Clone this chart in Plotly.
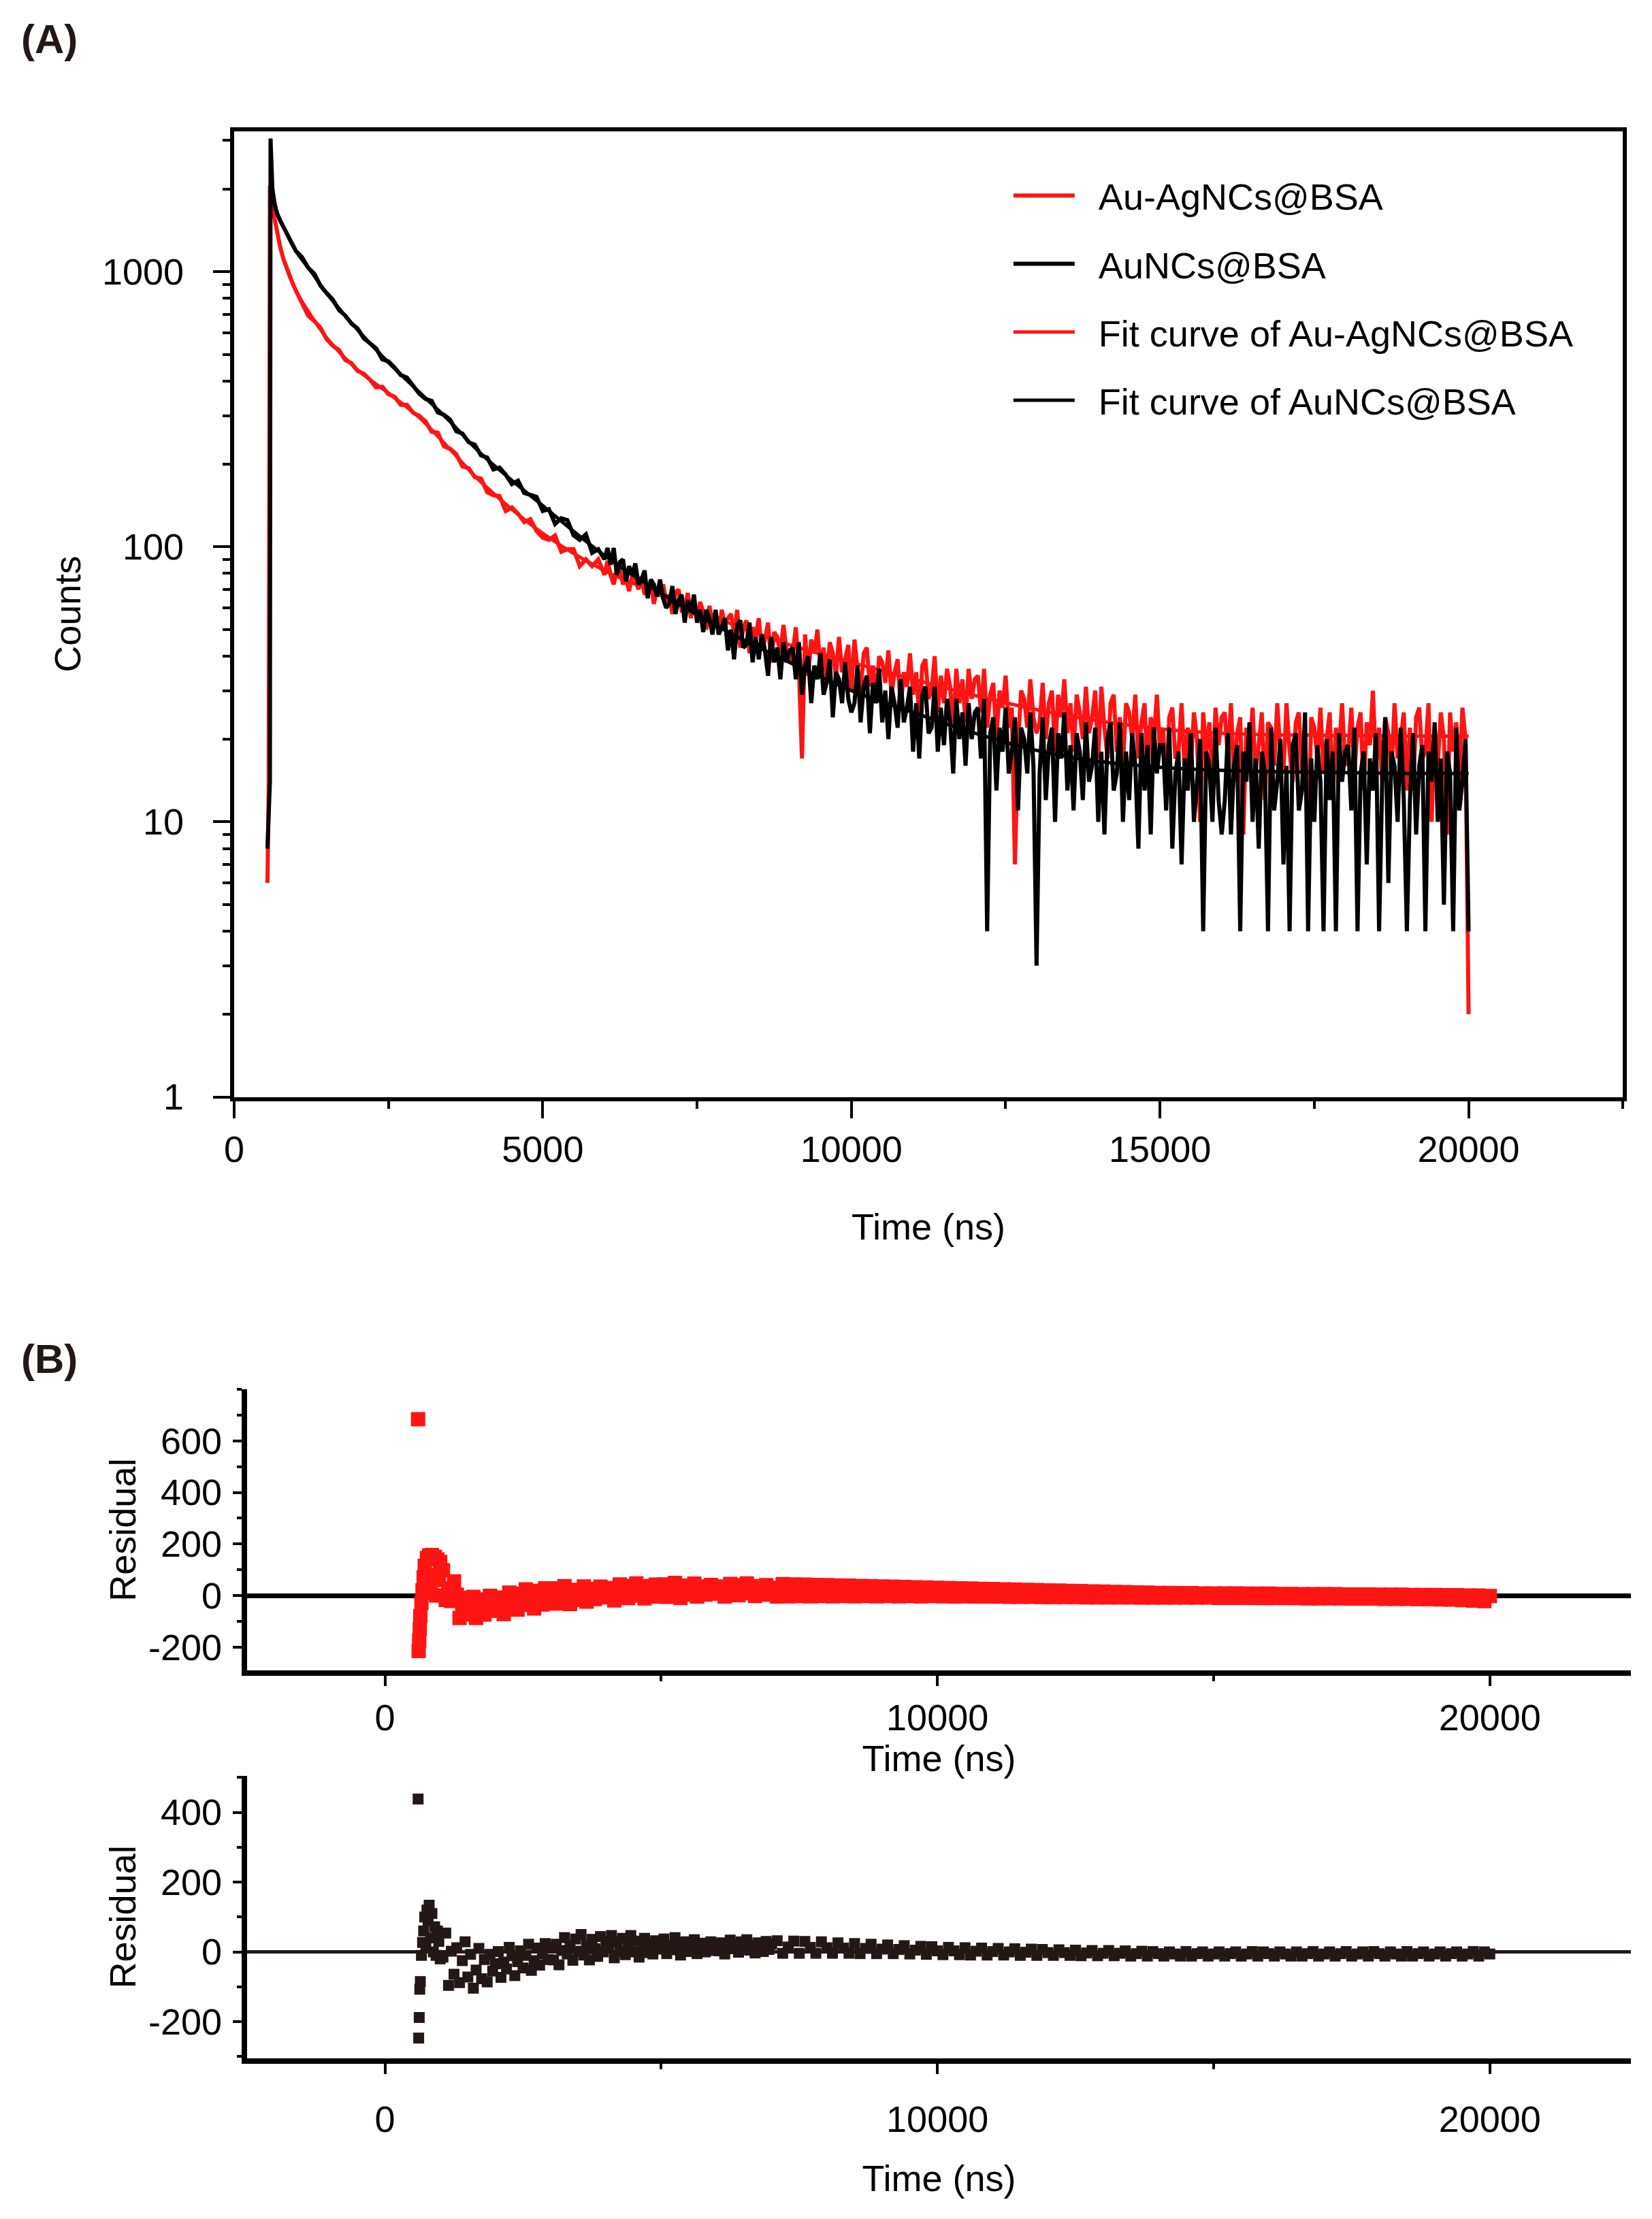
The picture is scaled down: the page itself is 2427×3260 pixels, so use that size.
import plotly.graph_objects as go

# ---- panel A: decay curves (counts vs time) ----
time_ns = [540, 560, 580, 590, 600, 610, 620, 640, 660, 680, 700, 750, 800, 850, 900, 950, 1000] \
    + list(range(1100, 6001, 100)) + list(range(6050, 20001, 50))

counts_auag = [
    6, 13, 2050, 1950, 1880, 1810, 1750, 1640, 1540, 1450, 1380, 1220, 1110, 1030, 960, 905, 855,
    773, 692, 662, 625, 568, 538, 519, 478, 465, 436,
    426, 405, 380, 382, 359, 351, 328, 328, 307, 299,
    286, 262, 260, 232, 227, 217, 196, 193, 179, 177,
    158, 154, 153, 135, 139, 132, 123, 126, 114, 108,
    106, 110, 96, 98, 98, 85, 90, 85, 90, 79,
    89, 79, 73, 82, 83, 73, 77, 69, 79, 76, 70, 78, 67, 71, 74, 62, 70, 66, 73, 63,
    67, 57, 68, 70, 59, 60, 68, 55, 62, 55, 63, 58, 50, 61, 53, 58, 48, 59, 52, 55,
    57, 48, 59, 43, 51, 54, 41, 51, 47, 55, 42, 46, 53, 38, 49, 47, 41, 52, 42, 38,
    41, 51, 36, 17, 48, 34, 46, 41, 50, 36, 43, 33, 45, 41, 34, 47, 35, 39, 44, 30,
    46, 36, 30, 41, 43, 31, 37, 28, 40, 38, 32, 42, 29, 35, 39, 26, 35, 31, 41, 29,
    35, 24, 37, 39, 28, 30, 40, 25, 34, 27, 36, 31, 22, 36, 27, 33, 23, 36, 28, 33,
    34, 25, 36, 22, 29, 32, 20, 30, 26, 34, 22, 26, 7, 19, 30, 28, 22, 33, 24, 21,
    23, 32, 20, 27, 30, 18, 29, 24, 33, 21, 27, 18, 29, 25, 20, 31, 21, 24, 30, 17,
    31, 22, 17, 27, 29, 18, 24, 16, 27, 25, 20, 29, 17, 23, 27, 15, 24, 20, 29, 18,
    22, 13, 24, 26, 17, 18, 27, 15, 22, 16, 25, 20, 10, 25, 18, 23, 14, 26, 19, 24,
    25, 17, 27, 14, 21, 24, 9, 22, 18, 26, 15, 19, 25, 12, 23, 22, 16, 27, 18, 15,
    27, 18, 14, 23, 25, 15, 21, 8, 24, 22, 17, 26, 15, 20, 25, 12, 22, 18, 27, 16,
    18, 26, 15, 22, 25, 13, 23, 19, 30, 16, 22, 14, 24, 21, 15, 27, 17, 20, 25, 13,
    22, 13, 24, 26, 17, 18, 27, 10, 22, 16, 25, 20, 9, 25, 18, 23, 14, 26, 20, 2,
]

counts_au = [
    8, 10, 14, 3050, 2300, 2120, 2000, 1810, 1730, 1670, 1620, 1530, 1450, 1380, 1310, 1240, 1190,
    1130, 1034, 983, 889, 836, 791, 725, 693, 648, 622,
    573, 549, 527, 480, 472, 448, 421, 412, 383, 360,
    345, 339, 308, 302, 290, 263, 258, 240, 235, 215,
    211, 191, 194, 183, 169, 174, 157, 154, 152, 135,
    137, 121, 127, 125, 110, 106, 111, 95, 98, 90,
    99, 86, 99, 79, 88, 90, 75, 85, 79, 87, 73, 76, 82, 65, 76, 73, 66, 76, 65, 60,
    62, 72, 57, 64, 67, 53, 64, 58, 67, 53, 59, 49, 59, 55, 48, 59, 48, 51, 55, 42,
    50, 39, 52, 54, 43, 44, 53, 38, 47, 39, 48, 42, 34, 47, 38, 43, 33, 45, 38, 42,
    43, 33, 45, 29, 37, 40, 27, 37, 33, 41, 29, 32, 39, 24, 35, 33, 27, 38, 28, 25,
    27, 37, 23, 31, 34, 21, 32, 27, 36, 23, 30, 20, 31, 27, 22, 33, 23, 26, 31, 18,
    27, 17, 29, 31, 21, 22, 31, 18, 26, 19, 28, 23, 15, 28, 20, 25, 16, 27, 20, 25,
    26, 17, 28, 4, 21, 24, 13, 22, 18, 26, 15, 18, 24, 11, 22, 20, 15, 25, 16, 3,
    15, 24, 12, 19, 22, 10, 21, 17, 25, 13, 19, 11, 21, 18, 12, 23, 14, 16, 22, 10,
    18, 9, 20, 23, 13, 15, 23, 10, 18, 12, 21, 16, 8, 21, 13, 19, 9, 22, 15, 19,
    19, 11, 22, 8, 15, 18, 7, 17, 13, 21, 10, 14, 20, 4, 18, 16, 10, 22, 12, 9,
    12, 21, 9, 16, 19, 4, 18, 14, 23, 10, 17, 8, 18, 15, 4, 22, 11, 14, 20, 7,
    16, 4, 19, 21, 11, 13, 25, 4, 17, 10, 19, 14, 4, 20, 12, 18, 4, 21, 14, 18,
    19, 11, 22, 4, 15, 18, 7, 17, 13, 21, 4, 14, 24, 6, 18, 16, 10, 22, 12, 4,
    12, 21, 9, 16, 19, 4, 18, 14, 23, 10, 17, 5, 18, 15, 4, 22, 11, 14, 20, 4,
]

fit_time_ns = [590, 600, 700, 800, 1000, 1250, 1500, 2000, 2500, 3000, 3500, 4000, 5000, 6000,
               7000, 8000, 9000, 10000, 11000, 12000, 13000, 14000, 15000, 16000, 17000, 18000, 19000, 20000]
fit_auag = [1950, 1880, 1380, 1110, 855, 690, 575, 440, 362, 295, 226, 172, 112, 82,
            66, 53, 44, 38, 33, 28.8, 25.6, 23.3, 21.8, 21.0, 20.7, 20.6, 20.5, 20.5]
fit_au = [2300, 2200, 1620, 1450, 1190, 1000, 835, 615, 468, 365, 285, 218, 141, 93,
          66, 49, 38, 30, 25, 21, 18.2, 16.6, 15.8, 15.4, 15.2, 15.1, 15.0, 15.0]

# ---- panel B: residuals ----
res_time_ns = [600, 610, 620, 630, 640, 660, 680, 700, 720, 740, 760, 780, 800, 825, 850, 875, 900, 925, 950, 975, 1000] \
    + list(range(1050, 7001, 50)) + list(range(7100, 20001, 100))

resid_auag = [
    684, -215, -175, -130, -80, -30, 20, 70, 115, 15, 145, 60, 155, 10, 157, 80, 150, 0, 140, 60, 130,
    98, -17, 27, -21, 55, 3, -87, -40, -9, -73, -36, -5, -87, -58, -15, -74, -37, -1, -59, -19,
    -59, -8, -72, -28, 11, -37, -11, -55, 7, -29, 24, -36, -3, -50, 18, -11, -35, 28, -19, 13,
    28, -31, 3, -14, 36, 15, -33, -1, 22, -18, 10, 35, -24, -3, 25, -14, 10, 34, -5, 22,
    -7, 29, -19, 14, 43, 5, 24, -10, 37, 9, 47, 0, 23, -11, 36, 14, -4, 42, 6, 31,
    43, -5, 22, 7, 49, 31, -9, 17, 38, 3, 26, 46, -4, 13, 35, 3, 22, 41, 9, 30,
    7, 35, -4, 22, 45, 14, 30, 1, 40, 16, 47, 9, 26, -2, 36, 18, 3, 40, 11, 30,
    -4, 44, -3, 43, -2, 42, -3, 41, -2, 40,
    -3, 39, -2, 38, -3, 37, -2, 36, -3, 35,
    -2, 34, -3, 33, -2, 32, -3, 31, -2, 30,
    -3, 29, -4, 28, -3, 27, -4, 26, -4, 25,
    -4, 24, -5, 23, -5, 22, -5, 21, -6, 20,
    -6, 19, -6, 18, -6, 17, -7, 16, -7, 15,
    -7, 14, -7, 13, -7, 12, -8, 11, -8, 10,
    -8, 10, -8, 9, -8, 9, -8, 8, -8, 8,
    -9, 8, -9, 8, -9, 7, -9, 7, -10, 7,
    -10, 6, -10, 6, -10, 5, -11, 5, -11, 5,
    -11, 5, -11, 4, -12, 4, -12, 4, -12, 3,
    -13, 3, -13, 3, -13, 2, -14, 2, -14, 2,
    -15, 1, -16, 1, -18, 0, -20, 0, -22, -2,
]

resid_au = [
    438, -247, -188, -107, -85, -10, 27, 60, 100, 20, 120, 90, 134, 40, 110, 0, 72, -10, 60, 30, -20,
    -15, 54, -96, 2, -64, 12, -88, -25, 29, -72, -7, -104, -52, 10, -77, -22, -86, -7, -55, -34,
    1, -73, -29, -49, 13, -11, -68, -28, 3, -46, -10, 22, -53, -25, 11, -38, -6, 24, -22, 12,
    -23, 22, -37, 4, 41, -6, 19, -24, 37, 2, 50, -9, 19, -23, 36, 9, -13, 44, 0, 30,
    15, 47, -17, 29, 2, 39, -8, 22, 47, 0, 31, -15, 10, 39, -2, 24, -6, 32, 8, 19,
    37, -5, 18, 6, 41, 25, -9, 13, 29, 1, 20, 35, -5, 8, 25, 0, 14, 29, 4, 23,
    3, 26, -6, 16, 34, 9, 22, -1, 29, 11, 35, 5, 19, -3, 26, 13, 1, 30, 7, 22,
    32, -4, 14, 31, -4, 30, 13, -4, 29, 12,
    -4, 26, 11, -4, 24, -5, 10, 22, -5, 8,
    20, -5, 7, 18, -6, 5, 16, -7, 15, 3,
    -8, 13, 3, -8, 12, -9, 2, 11, -9, 1,
    10, -9, 0, 9, -10, -1, 8, -10, 7, -2,
    -10, 6, -2, -10, 5, -11, -3, 4, -11, -4,
    4, -11, -4, 3, -12, -5, 2, -12, 1, -5,
    -12, 0, -6, -12, 1, -12, -5, 0, -12, -6,
    0, -12, -5, 0, -12, -6, 1, -12, 0, -5,
    -12, 0, -6, -12, 0, -12, -5, 1, -12, -6,
    0, -12, -5, 1, -12, -6, 0, -12, 1, -5,
    -12, 0, -6, -12, 1, -12, -5, 0, -12, -6,
    0, -12, -5, 0, -12, -6, 1, -12, 0, -6,
]

assert len(time_ns) == len(counts_auag) == len(counts_au)
assert len(fit_time_ns) == len(fit_auag) == len(fit_au)
assert len(res_time_ns) == len(resid_auag) == len(resid_au)

RED = "#ff1414"
BLACK = "#000000"
DARK = "#231815"
FONT = "Liberation Sans, Arial, sans-serif"
W, H = 2427, 3260
GAP = "\u00a0\u00a0"  # small gap between legend line and its label


def px_x(p):
    return p / W


def px_y(p):
    return 1 - p / H


fig = go.Figure()

fig.add_trace(go.Scatter(x=time_ns, y=counts_auag, mode="lines", name=GAP + "Au-AgNCs@BSA",
                         line=dict(color=RED, width=6), legendgroup="a", legendrank=1))
fig.add_trace(go.Scatter(x=fit_time_ns, y=fit_auag, mode="lines", name=GAP + "Fit curve of Au-AgNCs@BSA",
                         line=dict(color=RED, width=5, shape="spline"), legendgroup="c", legendrank=3))
fig.add_trace(go.Scatter(x=time_ns, y=counts_au, mode="lines", name=GAP + "AuNCs@BSA",
                         line=dict(color=BLACK, width=6), legendgroup="b", legendrank=2))
fig.add_trace(go.Scatter(x=fit_time_ns, y=fit_au, mode="lines", name=GAP + "Fit curve of AuNCs@BSA",
                         line=dict(color=BLACK, width=5, shape="spline"), legendgroup="d", legendrank=4))

fig.add_trace(go.Scatter(x=res_time_ns, y=resid_auag, mode="markers", xaxis="x2", yaxis="y2",
                         marker=dict(symbol="square", size=21, color=RED, line=dict(width=0)),
                         showlegend=False))
fig.add_trace(go.Scatter(x=res_time_ns, y=resid_au, mode="markers", xaxis="x3", yaxis="y3",
                         marker=dict(symbol="square", size=16, color=DARK, line=dict(width=0)),
                         showlegend=False))

tick_font = dict(family=FONT, size=54, color=BLACK)
log_minor = [2, 3, 4, 5, 6, 7, 8, 9, 20, 30, 40, 50, 60, 70, 80, 90,
             200, 300, 400, 500, 600, 700, 800, 900, 2000, 3000]

fig.update_layout(
    width=W, height=H,
    margin=dict(l=0, r=0, t=0, b=0),
    paper_bgcolor="white", plot_bgcolor="white",
    font=dict(family=FONT, size=54, color=BLACK),
    legend=dict(x=px_x(1478), y=px_y(248), xanchor="left", yanchor="top",
                font=dict(family=FONT, size=54, color=BLACK),
                bgcolor="rgba(0,0,0,0)", tracegroupgap=27, itemwidth=90),
    xaxis=dict(domain=[px_x(331), px_x(2384)], anchor="y", range=[0, 22500],
               showline=True, linewidth=6, linecolor=BLACK, mirror=True,
               ticks="outside", ticklen=25, tickwidth=4, tickcolor=BLACK,
               tick0=0, dtick=5000, tickformat="d", tickfont=tick_font, showgrid=False, zeroline=False,
               minor=dict(ticks="outside", ticklen=11, tickwidth=4, tickcolor=BLACK, dtick=2500),
               title=dict(text="Time (ns)", font=tick_font, standoff=68)),
    yaxis=dict(domain=[px_y(1626.5), px_y(194.5)], anchor="x", type="log", range=[0, 3.511],
               showline=True, linewidth=6, linecolor=BLACK, mirror=True,
               ticks="outside", ticklen=25, tickwidth=4, tickcolor=BLACK,
               tickvals=[1, 10, 100, 1000], ticktext=["1", "10", "100", "1000"],
               tickfont=tick_font, showgrid=False, zeroline=False, ticklabelstandoff=32,
               minor=dict(ticks="outside", ticklen=11, tickwidth=4, tickcolor=BLACK, tickvals=log_minor),
               title=dict(text="Counts", font=tick_font, standoff=16)),
    xaxis2=dict(domain=[px_x(350), px_x(2396)], anchor="y2", range=[-2498, 22556],
                showline=True, linewidth=8, linecolor=BLACK, mirror=False,
                ticks="outside", ticklen=15, tickwidth=4, tickcolor=BLACK,
                tick0=0, dtick=10000, tickformat="d", tickfont=tick_font, showgrid=False, zeroline=False,
                minor=dict(ticks="outside", ticklen=8, tickwidth=4, tickcolor=BLACK, dtick=5000),
                title=dict(text="Time (ns)", font=tick_font, standoff=8)),
    yaxis2=dict(domain=[px_y(2477), px_y(2060)], anchor="x2", range=[-291, 800],
                showline=True, linewidth=8, linecolor=BLACK, mirror=False,
                ticks="outside", ticklen=13, tickwidth=4, tickcolor=BLACK,
                tickvals=[-200, 0, 200, 400, 600], ticktext=["-200", "0", "200", "400", "600"],
                tickfont=tick_font, showgrid=False, ticklabelstandoff=5,
                zeroline=True, zerolinewidth=7, zerolinecolor=BLACK,
                minor=dict(ticks="outside", ticklen=7, tickwidth=4, tickcolor=BLACK, dtick=100),
                title=dict(text="Residual", font=tick_font, standoff=4)),
    xaxis3=dict(domain=[px_x(350), px_x(2396)], anchor="y3", range=[-2498, 22556],
                showline=True, linewidth=8, linecolor=BLACK, mirror=False,
                ticks="outside", ticklen=15, tickwidth=4, tickcolor=BLACK,
                tick0=0, dtick=10000, tickformat="d", tickfont=tick_font, showgrid=False, zeroline=False,
                ticklabelstandoff=20,
                minor=dict(ticks="outside", ticklen=8, tickwidth=4, tickcolor=BLACK, dtick=5000),
                title=dict(text="Time (ns)", font=tick_font, standoff=42)),
    yaxis3=dict(domain=[px_y(3052), px_y(2633)], anchor="x3", range=[-305, 505],
                showline=True, linewidth=8, linecolor=BLACK, mirror=False,
                ticks="outside", ticklen=13, tickwidth=4, tickcolor=BLACK,
                tickvals=[-200, 0, 200, 400], ticktext=["-200", "0", "200", "400"],
                tickfont=tick_font, showgrid=False, ticklabelstandoff=5,
                zeroline=True, zerolinewidth=5, zerolinecolor=DARK,
                minor=dict(ticks="outside", ticklen=7, tickwidth=4, tickcolor=BLACK, dtick=100),
                title=dict(text="Residual", font=tick_font, standoff=4)),
    annotations=[
        dict(text="<b>(A)</b>", x=px_x(58), y=px_y(58), xref="paper", yref="paper",
             xanchor="center", yanchor="middle", showarrow=False,
             font=dict(family=FONT, size=60, color=DARK)),
        dict(text="<b>(B)</b>", x=px_x(58), y=px_y(2015), xref="paper", yref="paper",
             xanchor="center", yanchor="middle", showarrow=False,
             font=dict(family=FONT, size=60, color=DARK)),
    ],
)

fig.write_html("out.html", config={"displayModeBar": False},
               post_script="document.body.style.margin='0px'; document.body.style.overflow='hidden';")
